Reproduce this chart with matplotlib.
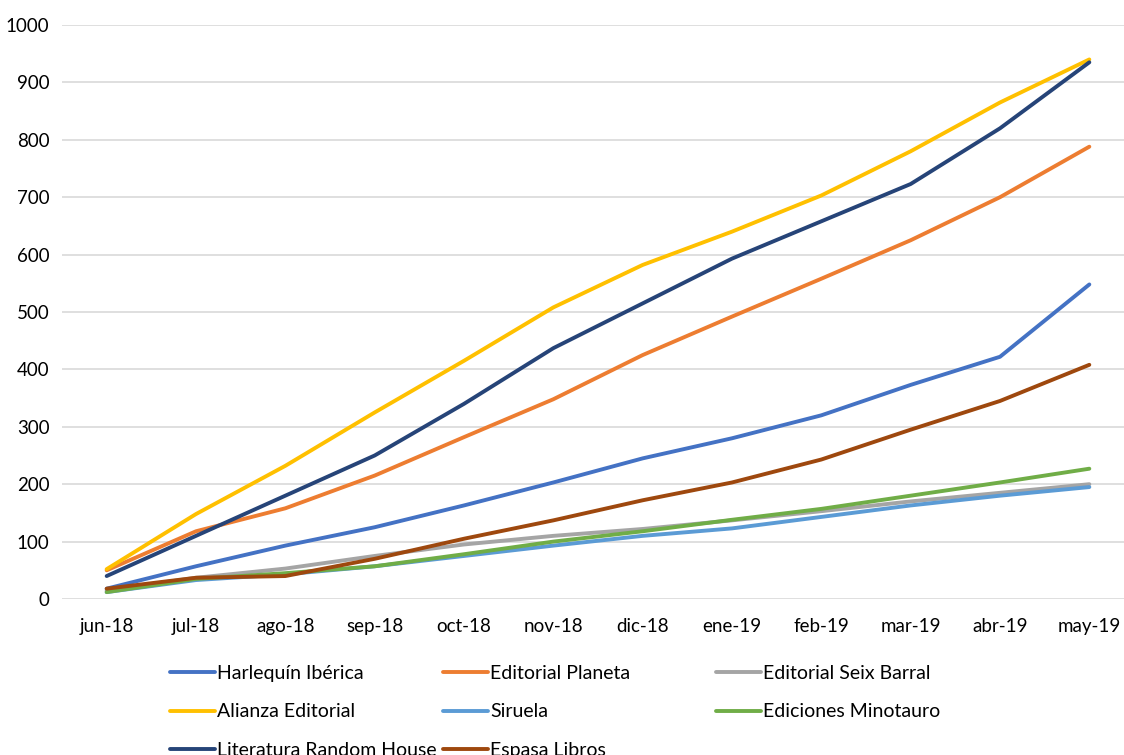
import matplotlib.pyplot as plt

plt.rcParams['font.family'] = ['Lato', 'DejaVu Sans']

# data
months = ['jun-18', 'jul-18', 'ago-18', 'sep-18', 'oct-18', 'nov-18',
          'dic-18', 'ene-19', 'feb-19', 'mar-19', 'abr-19', 'may-19']
harlequin = [18, 57, 93, 125, 163, 203, 245, 280, 320, 373, 422, 548]
planeta = [50, 118, 158, 215, 282, 348, 425, 492, 558, 625, 700, 788]
seix_barral = [15, 37, 53, 75, 95, 110, 122, 137, 153, 170, 185, 200]
alianza = [52, 148, 232, 325, 415, 508, 582, 640, 703, 780, 865, 940]
siruela = [12, 33, 43, 57, 75, 93, 110, 123, 143, 163, 180, 195]
minotauro = [12, 35, 45, 57, 78, 100, 118, 138, 157, 180, 203, 227]
random_house = [40, 110, 180, 250, 340, 437, 515, 593, 658, 723, 820, 935]
espasa = [18, 37, 40, 70, 105, 137, 172, 203, 243, 295, 345, 408]

series = [
    ('Harlequín Ibérica', harlequin, '#4472C4'),
    ('Editorial Planeta', planeta, '#ED7D31'),
    ('Editorial Seix Barral', seix_barral, '#A5A5A5'),
    ('Alianza Editorial', alianza, '#FFC000'),
    ('Siruela', siruela, '#5B9BD5'),
    ('Ediciones Minotauro', minotauro, '#70AD47'),
    ('Literatura Random House', random_house, '#264478'),
    ('Espasa Libros', espasa, '#9E480E'),
]

fig = plt.figure(figsize=(11.24, 7.55), dpi=100)
ax = fig.add_axes([62 / 1124, 1 - 599 / 755, 1072 / 1124, 574 / 755])

lines = []
for name, vals, color in series:
    ln, = ax.plot(range(len(months)), vals, color=color, linewidth=2.8,
                  label=name, solid_capstyle='round', solid_joinstyle='round')
    lines.append(ln)

ax.set_xlim(-0.5, len(months) - 0.5)
ax.set_ylim(0, 1000)
ax.set_yticks(range(0, 1001, 100))
ax.set_xticks(range(len(months)))
ax.set_xticklabels(months)
ax.tick_params(length=0, labelsize=13.5, colors='#000000')
ax.tick_params(axis='x', pad=14)
ax.tick_params(axis='y', pad=9)
ax.grid(axis='y', color='#D9D9D9', linewidth=1.2)
ax.set_axisbelow(True)
for s in ax.spines.values():
    s.set_visible(False)

# legend in three fixed-width columns like Excel
cols = [(170, [0, 3, 6]), (443, [1, 4, 7]), (716, [2, 5])]
for x, idx in cols:
    leg = fig.legend([lines[i] for i in idx], [series[i][0] for i in idx],
                     loc='upper left', bbox_to_anchor=(x / 1124, 1 - 665 / 755),
                     frameon=False, fontsize=14, handlelength=2.3,
                     handletextpad=0.12, labelspacing=1.1,
                     borderaxespad=0, borderpad=0)

plt.savefig('out.png', dpi=100)
